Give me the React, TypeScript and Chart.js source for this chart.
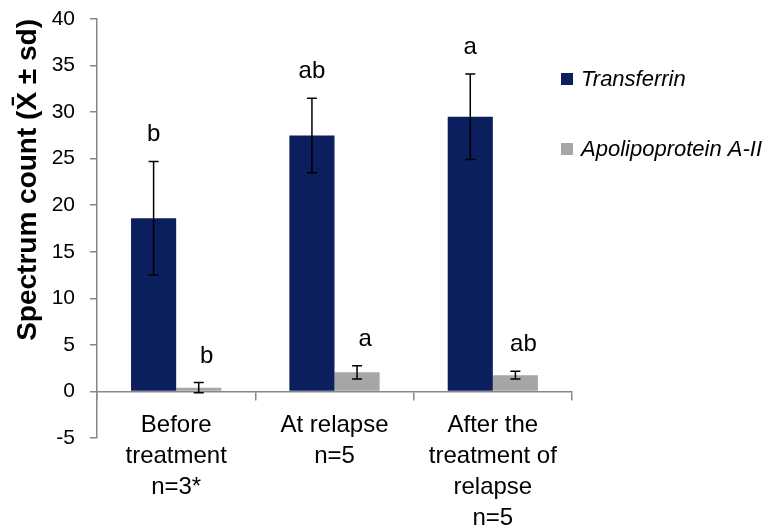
import { useEffect, useRef } from "react";
import { Chart, registerables } from "chart.js";

Chart.register(...registerables);

// ---- data ----
const categories: string[][] = [
  ["Before", "treatment", "n=3*"],
  ["At relapse", "n=5"],
  ["After the", "treatment of", "relapse", "n=5"],
];
const seriesNames = ["Transferrin", "Apolipoprotein A-II"];
const transferrinMean = [18.6, 27.5, 29.5];
const transferrinSd = [6.1, 4.0, 4.6];
const apoMean = [0.4, 2.05, 1.75];
const apoSd = [0.55, 0.72, 0.42];
const transferrinLetters = ["b", "ab", "a"];
const apoLetters = ["b", "a", "ab"];
const yMin = -5;
const yMax = 40;
const yStep = 5;
const yTitle = "Spectrum count (X\u0304 \u00B1 sd)";

const FONT = "'Liberation Sans', Arial, Helvetica, sans-serif";
const AXIS = "#878787";
const NAVY = "#0b1f5e";
const GRAY = "#a6a6a6";

const errorBarPlugin = {
  id: "errorBars",
  afterDatasetsDraw(chart: any) {
    const ctx = chart.ctx;
    const y = chart.scales.y;
    chart.data.datasets.forEach((ds: any, di: number) => {
      const meta = chart.getDatasetMeta(di);
      meta.data.forEach((bar: any, i: number) => {
        const m = ds.data[i];
        const s = ds.sd[i];
        const top = y.getPixelForValue(m + s);
        const bot = y.getPixelForValue(m - s);
        ctx.save();
        ctx.strokeStyle = "#000";
        ctx.lineWidth = 1.5;
        ctx.beginPath();
        ctx.moveTo(bar.x, top);
        ctx.lineTo(bar.x, bot);
        ctx.moveTo(bar.x - 5, top);
        ctx.lineTo(bar.x + 5, top);
        ctx.moveTo(bar.x - 5, bot);
        ctx.lineTo(bar.x + 5, bot);
        ctx.stroke();
        ctx.fillStyle = "#000";
        ctx.font = `24px ${FONT}`;
        ctx.textAlign = "center";
        ctx.textBaseline = "alphabetic";
        ctx.fillText(ds.letters[i], bar.x + (di === 1 ? 8 : 0), top - 20);
        ctx.restore();
      });
    });
  },
};

const legendPlugin = {
  id: "sideLegend",
  afterDraw(chart: any) {
    const ctx = chart.ctx;
    const area = chart.chartArea;
    chart.data.datasets.forEach((ds: any, di: number) => {
      const cy = 79 + di * 70;
      const x0 = area.right - 11;
      ctx.save();
      ctx.fillStyle = ds.backgroundColor;
      ctx.fillRect(x0, cy - 6, 12, 12);
      ctx.fillStyle = "#000";
      ctx.font = `italic 22px ${FONT}`;
      ctx.textAlign = "left";
      ctx.textBaseline = "middle";
      ctx.fillText(ds.label, x0 + 20, cy + 1);
      ctx.restore();
    });
  },
};

export default function App() {
  const ref = useRef<HTMLCanvasElement | null>(null);

  useEffect(() => {
    document.body.style.margin = "0";
    if (!ref.current) return;
    const chart = new Chart(ref.current, {
      type: "bar",
      data: {
        labels: categories,
        datasets: [
          {
            label: seriesNames[0],
            data: transferrinMean,
            backgroundColor: NAVY,
            borderWidth: 0,
            barPercentage: 1,
            categoryPercentage: 0.57,
            sd: transferrinSd,
            letters: transferrinLetters,
          } as any,
          {
            label: seriesNames[1],
            data: apoMean,
            backgroundColor: GRAY,
            borderWidth: 0,
            barPercentage: 1,
            categoryPercentage: 0.57,
            sd: apoSd,
            letters: apoLetters,
          } as any,
        ],
      },
      options: {
        animation: false,
        responsive: true,
        maintainAspectRatio: false,
        layout: { padding: { top: 19, right: 210, left: 0, bottom: 93 } },
        plugins: {
          legend: { display: false },
          tooltip: { enabled: false },
        },
        scales: {
          x: {
            position: { y: 0 } as any,
            offset: true,
            grid: {
              offset: true,
              drawOnChartArea: false,
              tickLength: 8,
              tickColor: AXIS,
              color: AXIS,
              lineWidth: 1.5,
            },
            border: { color: AXIS, width: 1.5 },
            ticks: {
              color: "#000",
              font: { family: FONT, size: 24, lineHeight: "31px" } as any,
              padding: 10,
              maxRotation: 0,
              autoSkip: false,
            },
          } as any,
          y: {
            min: yMin,
            max: yMax,
            ticks: {
              stepSize: yStep,
              color: "#000",
              font: { family: FONT, size: 21 },
              padding: 15,
            },
            grid: {
              drawOnChartArea: false,
              tickLength: 7,
              tickColor: AXIS,
              color: AXIS,
              lineWidth: 1.5,
            },
            border: { color: AXIS, width: 1.5 },
            title: {
              display: true,
              text: yTitle,
              align: "end",
              color: "#000",
              font: { family: FONT, size: 28, weight: "bold" },
              padding: { top: 11, bottom: 0 },
            },
            afterFit: (s: any) => {
              s.width = 97;
              s.paddingTop = 0;
              s.paddingBottom = 0;
            },
          } as any,
        },
      },
      plugins: [errorBarPlugin, legendPlugin],
    });
    return () => chart.destroy();
  }, []);

  return (
    <div style={{ width: 782, height: 531, position: "relative", background: "#fff" }}>
      <canvas ref={ref} />
    </div>
  );
}
